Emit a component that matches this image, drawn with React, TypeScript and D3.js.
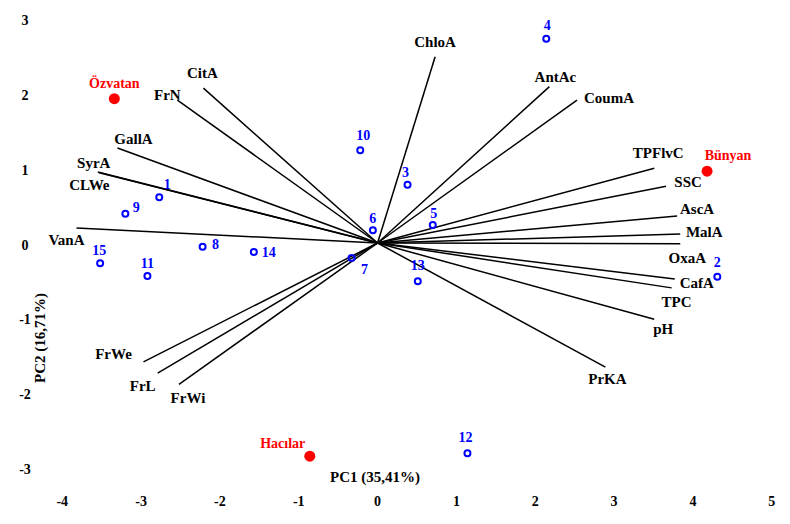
import React from "react";
import * as d3 from "d3";

// ---- data ----
const varNames = ["ChloA","CitA","FrN","GallA","SyrA","CLWe","VanA","FrWe","FrL","FrWi","PrKA","pH","TPC","CafA","OxaA","MalA","AscA","SSC","TPFlvC","CoumA","AntAc"];
const varPC1 = [0.73,-2.21,-2.54,-3.30,-3.55,-3.53,-3.82,-2.97,-2.79,-2.52,2.89,3.51,3.73,3.77,3.84,3.84,3.80,3.66,3.51,2.53,2.18];
const varPC2 = [2.49,2.07,1.91,1.27,0.95,0.94,0.20,-1.59,-1.74,-1.89,-1.66,-1.02,-0.60,-0.48,-0.01,0.12,0.36,0.76,1.00,1.91,2.09];

const sampleIds = ["1","9","15","11","8","14","10","3","6","5","7","13","4","2","12"];
const samplePC1 = [-2.77,-3.20,-3.52,-2.92,-2.22,-1.57,-0.22,0.38,-0.06,0.70,-0.33,0.51,2.14,4.31,1.14];
const samplePC2 = [0.61,0.39,-0.27,-0.44,-0.05,-0.12,1.24,0.78,0.17,0.24,-0.20,-0.51,2.73,-0.45,-2.81];

const siteNames = ["Özvatan","Bünyan","Hacılar"];
const sitePC1 = [-3.34,4.18,-0.86];
const sitePC2 = [1.93,0.96,-2.85];

const xTicks = [-4,-3,-2,-1,0,1,2,3,4,5];
const yTicks = [-3,-2,-1,0,1,2,3];
const xTitle = "PC1 (35,41%)";
const yTitle = "PC2 (16,71%)";

// ---- layout (label offsets in px) ----
const varLabelOffset: Record<string, [number, number]> = {
  ChloA: [0, -15], CitA: [-1, -15], FrN: [-10, -5], GallA: [16, -9], SyrA: [-4, -9],
  CLWe: [-10, 12], VanA: [-10, 12], FrWe: [-30, -8], FrL: [-15, 13], FrWi: [9, 14],
  PrKA: [2, 12], pH: [9, 10], TPC: [5, 14], CafA: [22, 4], OxaA: [7, 14],
  MalA: [24, -2], AscA: [20, -7], SSC: [22, -4], TPFlvC: [4, -15], CoumA: [32, -2], AntAc: [6, -10],
};
const sampleLabelOffset: Record<string, [number, number]> = {
  "1": [8, -13], "9": [11, -6], "15": [-1, -13], "11": [0, -12], "8": [13, -2], "14": [15, 1],
  "10": [3, -15], "3": [-2, -12], "6": [0, -12], "5": [1, -12], "7": [13, 12], "13": [0, -16],
  "4": [1, -13], "2": [0, -14], "12": [-2, -16],
};
const siteLabelOffset: Record<string, [number, number]> = {
  "Özvatan": [0, -15], "Bünyan": [21, -16], "Hacılar": [-27, -13],
};

const W = 790, H = 524;
const FONT = "'Liberation Serif', 'Times New Roman', serif";

export default function App() {
  const xs = d3.scaleLinear().domain([-4, 5]).range([62.3, 771.7]);
  const ys = d3.scaleLinear().domain([-3, 3]).range([467.4, 18.6]);
  const ox = xs(0), oy = ys(0);

  return (
    <svg width={W} height={H} style={{ position: "absolute", left: 0, top: 0, background: "#fff" }} fontFamily={FONT}>
      <rect width={W} height={H} fill="#fff" />
      {/* ticks */}
      {xTicks.map((t) => (
        <text key={"x" + t} x={xs(t)} y={501} textAnchor="middle" dominantBaseline="central" fontSize={14} fontWeight="bold" fill="#000">{t}</text>
      ))}
      {yTicks.map((t) => (
        <text key={"y" + t} x={25} y={ys(t) + 2} textAnchor="middle" dominantBaseline="central" fontSize={14} fontWeight="bold" fill="#000">{t}</text>
      ))}
      {/* axis titles */}
      <text x={375} y={477} textAnchor="middle" dominantBaseline="central" fontSize={15} fontWeight="bold" fill="#000">{xTitle}</text>
      <text transform="translate(40,338) rotate(-90)" textAnchor="middle" dominantBaseline="central" fontSize={15} fontWeight="bold" fill="#000">{yTitle}</text>
      {/* loadings */}
      {varNames.map((n, i) => (
        <line key={"l" + n} x1={ox} y1={oy} x2={xs(varPC1[i])} y2={ys(varPC2[i])} stroke="#000" strokeWidth={1.5} />
      ))}
      {varNames.map((n, i) => {
        const [dx, dy] = varLabelOffset[n];
        return (
          <text key={"t" + n} x={xs(varPC1[i]) + dx} y={ys(varPC2[i]) + dy} textAnchor="middle" dominantBaseline="central" fontSize={15} fontWeight="bold" fill="#000">{n}</text>
        );
      })}
      {/* samples */}
      {sampleIds.map((s, i) => {
        const [dx, dy] = sampleLabelOffset[s];
        const cx = xs(samplePC1[i]), cy = ys(samplePC2[i]);
        return (
          <g key={"s" + s}>
            <circle cx={cx} cy={cy} r={3} fill="none" stroke="#0000ff" strokeWidth={2} />
            <text x={cx + dx} y={cy + dy} textAnchor="middle" dominantBaseline="central" fontSize={14} fontWeight="bold" fill="#0000ff">{s}</text>
          </g>
        );
      })}
      {/* sites */}
      {siteNames.map((s, i) => {
        const [dx, dy] = siteLabelOffset[s];
        const cx = xs(sitePC1[i]), cy = ys(sitePC2[i]);
        return (
          <g key={"r" + s}>
            <circle cx={cx} cy={cy} r={5.5} fill="#ff0000" />
            <text x={cx + dx} y={cy + dy} textAnchor="middle" dominantBaseline="central" fontSize={14} fontWeight="bold" fill="#ff0000">{s}</text>
          </g>
        );
      })}
    </svg>
  );
}
